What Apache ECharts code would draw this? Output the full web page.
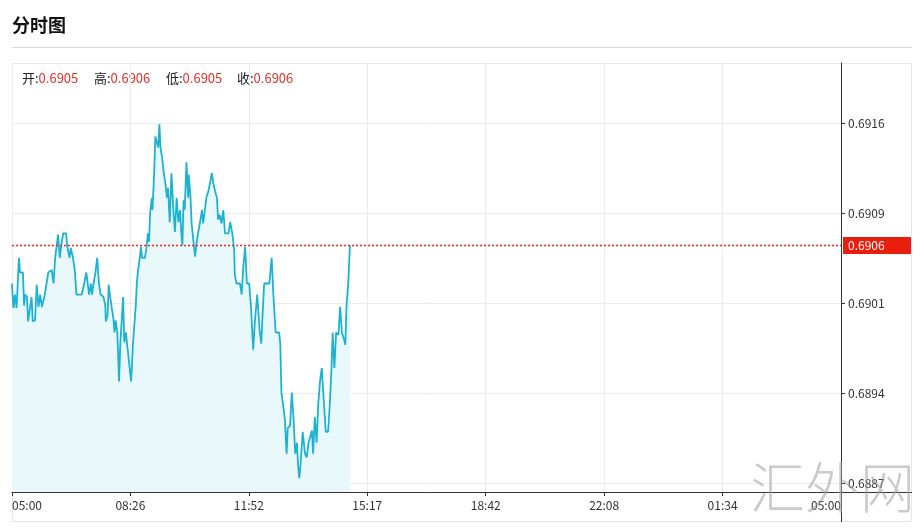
<!DOCTYPE html>
<html>
<head>
<meta charset="utf-8">
<script src="https://cdn.jsdelivr.net/npm/echarts@6/dist/echarts.min.js"></script>
<style>
html,body{margin:0;padding:0;background:#fff;}
#chart{width:924px;height:530px;}
</style>
</head>
<body>
<div id="chart"></div>
<script>
// minutes since 05:00
const times = [0,2,3,5,8,12,14,19,21,23,26,28,31,34,36,40,43,46,49,52,54,57,60,63,69,72,75,78,80,83,86,89,94,96,100,102,106,109,112,121,125,129,131,134,137,139,142,145,148,151,154,159,162,163,166,168,170,173,176,178,180,183,186,188,191,193,195,198,200,202,205,207,210,212,215,217,219,222,224,226,231,234,236,238,240,243,244,247,249,252,254,256,258,261,264,267,269,271,274,277,280,283,286,289,292,294,296,298,300,303,306,307,310,312,315,318,321,327,330,332,335,338,341,344,347,350,353,356,358,361,364,367,370,376,379,383,386,387,390,396,399,402,405,408,412,415,419,422,426,430,433,435,438,447,451,454,458,464,466,468,471,474,477,479,483,486,489,492,495,497,499,501,505,509,512,515,518,521,523,526,529,532,535,538,541,545,549,552,555,557,560,563,567,570,573,577,579,581,584,587];
const prices = [0.69029,0.69011,0.69009,0.69020,0.69009,0.69050,0.69038,0.69038,0.69011,0.69020,0.69018,0.68998,0.68999,0.69018,0.68998,0.68999,0.69028,0.69010,0.69020,0.69010,0.69011,0.69020,0.69020,0.69038,0.69040,0.69029,0.69050,0.69050,0.69069,0.69050,0.69062,0.69070,0.69070,0.69059,0.69050,0.69058,0.69050,0.69040,0.69020,0.69020,0.69028,0.69038,0.69038,0.69020,0.69029,0.69020,0.69030,0.69038,0.69050,0.69029,0.69020,0.69018,0.69011,0.68998,0.69003,0.69028,0.69020,0.69010,0.69001,0.68989,0.68999,0.68989,0.68949,0.68979,0.68979,0.69018,0.68981,0.68989,0.68979,0.68971,0.68957,0.68949,0.68979,0.68979,0.69011,0.69030,0.69040,0.69050,0.69059,0.69050,0.69050,0.69060,0.69070,0.69063,0.69087,0.69099,0.69089,0.69120,0.69149,0.69149,0.69140,0.69159,0.69140,0.69131,0.69118,0.69109,0.69099,0.69107,0.69079,0.69119,0.69091,0.69071,0.69099,0.69079,0.69089,0.69071,0.69060,0.69097,0.69089,0.69128,0.69099,0.69118,0.69100,0.69078,0.69077,0.69051,0.69064,0.69080,0.69089,0.69078,0.69089,0.69100,0.69104,0.69111,0.69119,0.69110,0.69104,0.69099,0.69081,0.69085,0.69078,0.69089,0.69070,0.69070,0.69079,0.69069,0.69056,0.69036,0.69029,0.69029,0.69020,0.69044,0.69059,0.69029,0.69029,0.69011,0.68975,0.68999,0.69020,0.68991,0.68980,0.69001,0.69029,0.69029,0.69050,0.69020,0.68989,0.68989,0.68980,0.68940,0.68930,0.68918,0.68890,0.68911,0.68913,0.68940,0.68919,0.68890,0.68899,0.68880,0.68870,0.68880,0.68908,0.68890,0.68887,0.68899,0.68899,0.68909,0.68890,0.68920,0.68899,0.68931,0.68949,0.68960,0.68938,0.68908,0.68908,0.68930,0.68960,0.68989,0.68960,0.68989,0.68987,0.69010,0.68989,0.68983,0.68979,0.69010,0.69029,0.69060];
const xLabels = ['05:00','08:26','11:52','15:17','18:42','22:08','01:34','05:00'];
const yTicks = [0.688661, 0.689396, 0.690131, 0.690865, 0.691600];
const yMin = 0.688588, yMax = 0.692090;
const ohlc = [['开', '0.6905'], ['高', '0.6906'], ['低', '0.6905'], ['收', '0.6906']];
const lastPrice = 0.6906;

const chart = echarts.init(document.getElementById('chart'), null, {renderer: 'canvas'});
const FONT = '"Noto Sans CJK SC", "Noto Sans", sans-serif';
const span = 1440;
const step = span / (xLabels.length - 1);
const ohlcX = [22, 94, 166, 237];
const RED_LINE = '#f0281a';

const graphics = [
  {type: 'text', left: 12, top: 16, style: {text: '分时图', font: 'bold 18px "Noto Sans CJK SC", sans-serif', fill: '#111'}},
  {type: 'line', shape: {x1: 12, y1: 47.5, x2: 912, y2: 47.5}, style: {stroke: '#d9d9d9', lineWidth: 1}},
  {type: 'rect', shape: {x: 12.5, y: 63.5, width: 899, height: 458}, style: {fill: 'none', stroke: '#e6e6e6', lineWidth: 1}, z: -1},
  {type: 'line', shape: {x1: 841, y1: 492.5, x2: 912, y2: 492.5}, style: {stroke: '#333', lineWidth: 1}},
  {type: 'line', shape: {x1: 841.5, y1: 492, x2: 841.5, y2: 522}, style: {stroke: '#333', lineWidth: 1}},
  {type: 'text', left: 750, top: 460, z: 100, style: {text: '汇外网', font: '300 55px "Noto Sans CJK SC", sans-serif', fill: 'rgba(160,160,160,0.55)'}}
];
ohlc.forEach((p, i) => {
  graphics.push({type: 'text', left: ohlcX[i], top: 72, style: {
    text: '{k|' + p[0] + ':}{v|' + p[1] + '}',
    rich: {k: {fontSize: 13, fontFamily: FONT, fill: '#222'}, v: {fontSize: 13, fontFamily: FONT, fill: '#e0322a'}}
  }});
});

chart.setOption({
  animation: false,
  grid: {left: 12, right: 83, top: 63, bottom: 38, containLabel: false},
  graphic: graphics,
  xAxis: {
    type: 'value', min: 0, max: span, interval: step,
    axisLine: {show: true, onZero: false, lineStyle: {color: '#333', width: 1}},
    axisTick: {show: true, length: 4, lineStyle: {color: '#333'}},
    axisLabel: {
      color: '#333', fontSize: 12, fontFamily: FONT, margin: 7,
      alignMinLabel: 'left', alignMaxLabel: 'right',
      formatter: v => xLabels[Math.round(v / step)]
    },
    splitLine: {show: true, lineStyle: {color: '#ececec', width: 1}}
  },
  yAxis: {
    type: 'value', position: 'right', min: yMin, max: yMax, scale: true,
    axisLine: {show: true, onZero: false, lineStyle: {color: '#333', width: 1}},
    axisTick: {show: true, length: 4, inside: false, customValues: yTicks, lineStyle: {color: '#333'}},
    axisLabel: {color: '#333', fontSize: 12, fontFamily: FONT, margin: 7, customValues: yTicks, formatter: v => v.toFixed(4)},
    splitLine: {show: true, lineStyle: {color: '#ececec', width: 1}}
  },
  series: [{
    type: 'line',
    data: times.map((t, i) => [t, prices[i]]),
    showSymbol: false,
    symbol: 'none',
    lineStyle: {color: '#1cb3d3', width: 1.8},
    areaStyle: {color: '#e9f8fb', opacity: 1},
    z: 2
  }, {
    type: 'line',
    data: [[0, lastPrice], [span, lastPrice]],
    showSymbol: false,
    symbol: 'none',
    silent: true,
    color: RED_LINE,
    lineStyle: {color: RED_LINE, type: [2, 2], width: 1.5},
    endLabel: {
      show: true, distance: 2, formatter: p => Number(p.value[1]).toFixed(4),
      color: '#fff', backgroundColor: '#ea1e0c', padding: [2, 5, 2, 5],
      fontSize: 12, fontFamily: FONT, width: 58, lineHeight: 13
    },
    z: 3
  }]
});
</script>
</body>
</html>
